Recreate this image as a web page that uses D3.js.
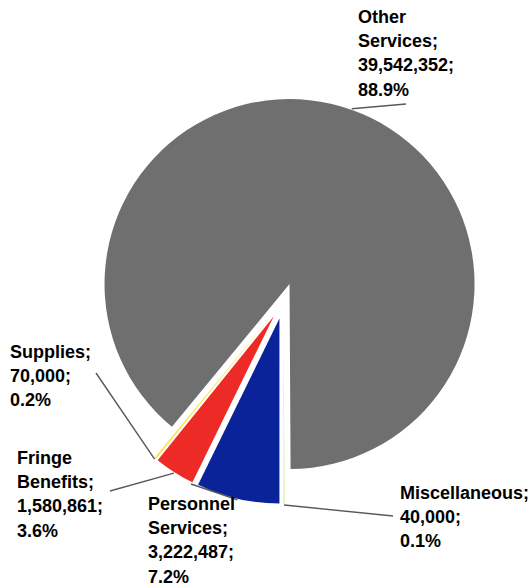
<!DOCTYPE html>
<html>
<head>
<meta charset="utf-8">
<script src="https://cdn.jsdelivr.net/npm/d3@7"></script>
<style>
  html, body { margin: 0; padding: 0; background: #fff; }
  svg { display: block; }
  text { font-family: "Liberation Sans", Arial, sans-serif; font-weight: bold; font-size: 18px; fill: #000; }
</style>
</head>
<body>
<svg id="chart" width="528" height="588"></svg>
<script>
// Budget categories, in worksheet order
const categories = ["Personnel Services", "Fringe Benefits", "Supplies", "Other Services", "Miscellaneous"];
const amounts = [3222487, 1580861, 70000, 39542352, 40000];
const colors = ["#0B2399", "#EE2A26", "#FFE24D", "#6F6F6F", "#C5EE95"];

// Where each data label block sits (left edge, first line centre) and where its leader line meets it
const labelBoxes = [
  { x: 148, y: 504, lx: 191, ly: 484 },
  { x: 17,  y: 458, lx: 110, ly: 491 },
  { x: 10,  y: 352, lx: 96,  ly: 373 },
  { x: 358, y: 17,  lx: 406, ly: 104 },
  { x: 400, y: 493, lx: 393, ly: 516 }
];

const cx = 283.5, cy = 301;    // pie centre
const radius = 185;
const explode = 18;            // every slice pulled out from the centre
const lineHeight = 24.2;

const svg = d3.select("#chart");
const g = svg.append("g").attr("transform", `translate(${cx},${cy})`);

const total = d3.sum(amounts);
const pie = d3.pie().sort(null).startAngle(Math.PI).endAngle(3 * Math.PI).value(d => d);
const arcs = pie(amounts);
const arc = d3.arc().innerRadius(0).outerRadius(radius);

const midAngle = d => (d.startAngle + d.endAngle) / 2;
const offset = d => [Math.sin(midAngle(d)) * explode, -Math.cos(midAngle(d)) * explode];

g.selectAll("path.slice")
  .data(arcs)
  .join("path")
  .attr("class", "slice")
  .attr("d", arc)
  .attr("fill", (d, i) => colors[i])
  .attr("transform", d => `translate(${offset(d)})`);

// Leader lines from each slice's outer edge to its label
const fmtNum = d3.format(",");
const fmtPct = d3.format(".1%");

arcs.forEach((d, i) => {
  const [ox, oy] = offset(d);
  const a = midAngle(d);
  const px = cx + ox + Math.sin(a) * (radius + 1);
  const py = cy + oy - Math.cos(a) * (radius + 1);
  const box = labelBoxes[i];
  svg.append("line")
    .attr("x1", px).attr("y1", py)
    .attr("x2", box.lx).attr("y2", box.ly)
    .attr("stroke", "#595959")
    .attr("stroke-width", 1.4);

  const words = categories[i].split(" ");
  const lines = words.map((w, k) => k === words.length - 1 ? w + ";" : w);
  lines.push(fmtNum(amounts[i]) + ";");
  lines.push(fmtPct(amounts[i] / total));

  const t = svg.append("text")
    .attr("x", box.x)
    .attr("y", box.y)
    .attr("dominant-baseline", "central");
  lines.forEach((ln, k) => {
    t.append("tspan")
      .attr("x", box.x)
      .attr("y", box.y + k * lineHeight)
      .text(ln);
  });
});
</script>
</body>
</html>
